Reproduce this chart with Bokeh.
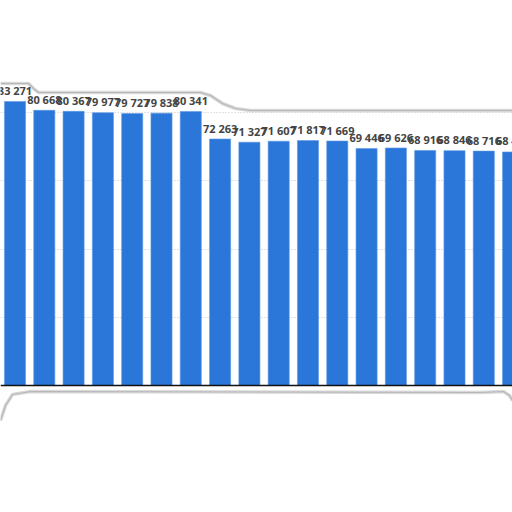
from bokeh.plotting import figure
from bokeh.models import ColumnDataSource, Range1d, Span, FixedTicker
from bokeh.core.properties import value
from bokeh.embed import file_html
from bokeh.resources import INLINE

# ---- data ----
positions = list(range(18))
values = [83271, 80668, 80367, 79977, 79727, 79838, 80341, 72263, 71327,
          71607, 71817, 71669, 69446, 69626, 68916, 68846, 68716, 68480]
labels = [f"{v:,}".replace(",", " ") for v in values]
grid_ticks = [20000, 40000, 60000, 80000]

W, H = 512, 512
x0, x1 = -0.495, 16.98
y0, y1 = -37233, 112870

p = figure(width=W, height=H, output_backend="svg", toolbar_location=None,
           x_range=Range1d(x0, x1), y_range=Range1d(y0, y1), min_border=0,
           background_fill_color="white", border_fill_color="white")
p.outline_line_color = None
p.xaxis.visible = False
p.yaxis.visible = False
p.xgrid.visible = False
p.ygrid.ticker = FixedTicker(ticks=grid_ticks)
p.ygrid.grid_line_color = "#c4c4c4"
p.ygrid.grid_line_dash = "1 2"
p.ygrid.grid_line_width = 1


def X(px):
    return x0 + px / W * (x1 - x0)


def Y(py):
    return y1 - py / H * (y1 - y0)


# decorative paper edges (card shadow)
top_px = [(0, 83), (28, 83), (33, 88), (38, 92), (200, 92), (210, 95),
          (222, 103), (235, 108), (250, 110), (512, 110)]
bot_px = [(0, 420), (5, 405), (12, 394), (30, 391), (480, 392), (503, 391),
          (509, 395), (512, 400)]
for pts in (top_px, bot_px):
    xs = [X(a) for a, b in pts]
    ys = [Y(b) for a, b in pts]
    p.line(xs, ys, line_color="#d0d0d0", line_width=3.5, line_alpha=0.8)
    p.line(xs, ys, line_color="#a8a8a8", line_width=1.2, line_alpha=0.7)

src = ColumnDataSource(dict(x=positions, top=values, label=labels))
p.vbar(x="x", top="top", bottom=0, width=0.72, source=src,
       fill_color="#2b76d9", line_color="#5b98e6", line_width=0.6)

p.add_layout(Span(location=0, dimension="width", line_color="#111111",
                  line_width=1.5))

p.text(x="x", y="top", text="label", source=src,
       text_font=value("Open Sans"), text_font_style="bold",
       text_font_size="11px", text_color="#444444",
       text_align="center", text_baseline="alphabetic", y_offset=-11)

open("out.html", "w").write(file_html(p, INLINE))
